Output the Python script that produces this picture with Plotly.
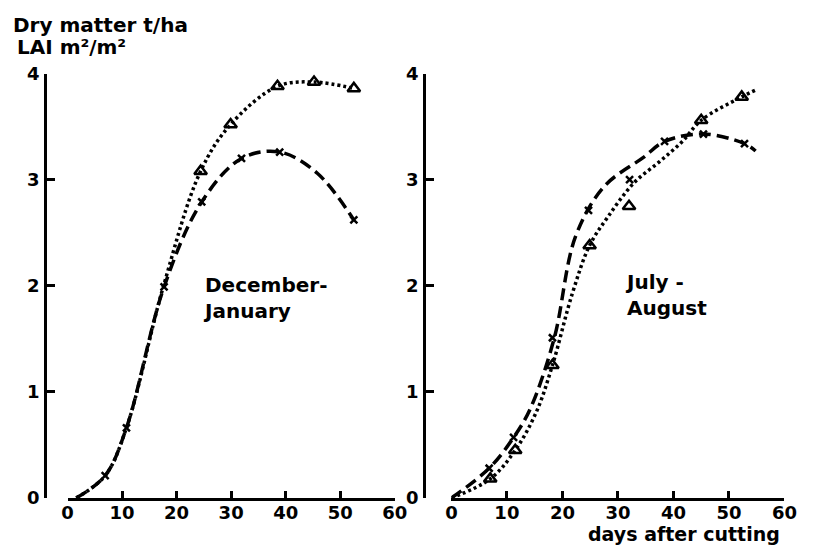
import plotly.graph_objects as go

# ---------------- data ----------------
# December-January panel
dj_cross_days = [6.9, 10.8, 17.7, 24.6, 31.9, 38.9, 52.5]
dj_cross_vals = [0.21, 0.66, 1.99, 2.79, 3.20, 3.26, 2.62]
dj_dash_curve_days = [1.6, 6.9, 10.8, 17.7, 24.6, 31.9, 38.9, 45.8, 52.5]
dj_dash_curve_vals = [0.0, 0.21, 0.66, 1.99, 2.79, 3.20, 3.26, 3.06, 2.62]

dj_tri_days = [24.4, 29.9, 38.5, 45.2, 52.5]
dj_tri_vals = [3.08, 3.52, 3.88, 3.92, 3.86]
dj_dot_curve_days = [1.6, 6.9, 10.8, 17.5, 24.4, 29.9, 38.5, 45.2, 52.5]
dj_dot_curve_vals = [0.0, 0.21, 0.66, 1.98, 3.08, 3.52, 3.88, 3.92, 3.86]

# July-August panel
ja_cross_days = [6.8, 11.2, 18.2, 24.7, 32.1, 38.4, 45.4, 52.8]
ja_cross_vals = [0.28, 0.57, 1.51, 2.71, 3.00, 3.36, 3.43, 3.34]
ja_dash_curve_days = [0.0, 6.8, 11.2, 14.2, 18.5, 22.4, 27.6, 34.6, 38.4, 45.4, 52.8, 54.8]
ja_dash_curve_vals = [0.0, 0.28, 0.57, 0.84, 1.50, 2.47, 2.94, 3.21, 3.36, 3.43, 3.34, 3.27]

ja_tri_days = [7.0, 11.5, 18.2, 24.9, 32.0, 45.0, 52.3]
ja_tri_vals = [0.18, 0.45, 1.25, 2.38, 2.75, 3.56, 3.78]
ja_dot_curve_days = [0.0, 7.0, 11.5, 15.3, 18.2, 21.8, 24.9, 28.2, 32.9, 37.5, 41.6, 45.0, 52.3, 55.0]
ja_dot_curve_vals = [0.0, 0.18, 0.45, 0.81, 1.25, 1.93, 2.38, 2.65, 2.97, 3.17, 3.36, 3.56, 3.78, 3.85]

x_ticks = [0, 10, 20, 30, 40, 50, 60]
y_ticks = [0, 1, 2, 3, 4]

title_lines = ["Dry matter t/ha", "LAI m²/m²"]
panel_labels = ["December-<br>January", "July -<br>August"]
x_title = "days after cutting"

# ---------------- styling ----------------
W, H = 817, 558
TICKFONT = dict(family="DejaVu Sans", size=18, color="black", weight="bold")
TEXTFONT = dict(family="DejaVu Sans", size=20, color="black", weight="bold")
XTFONT = dict(family="DejaVu Sans", size=19, color="black", weight="bold")
BLACK = "black"
DASH = "12px,6px"
DOT = "3px,3px"

fig = go.Figure()

def add_panel(xa, ya, dash_d, dash_v, cross_d, cross_v, dot_d, dot_v, tri_d, tri_v):
    fig.add_trace(go.Scatter(x=dash_d, y=dash_v, mode="lines", xaxis=xa, yaxis=ya,
                             line=dict(color=BLACK, width=3.5, dash=DASH, shape="spline", smoothing=1.0),
                             showlegend=False, hoverinfo="skip"))
    fig.add_trace(go.Scatter(x=dot_d, y=dot_v, mode="lines", xaxis=xa, yaxis=ya,
                             line=dict(color=BLACK, width=3.5, dash=DOT, shape="spline", smoothing=1.0),
                             showlegend=False, hoverinfo="skip"))
    fig.add_trace(go.Scatter(x=cross_d, y=cross_v, mode="markers", xaxis=xa, yaxis=ya,
                             marker=dict(symbol="x-thin", size=7, color=BLACK, line=dict(color=BLACK, width=2.5)),
                             cliponaxis=False, showlegend=False))
    fig.add_trace(go.Scatter(x=tri_d, y=tri_v, mode="markers", xaxis=xa, yaxis=ya,
                             marker=dict(symbol="triangle-up-open", size=11, color=BLACK, line=dict(color=BLACK, width=2.5)),
                             cliponaxis=False, showlegend=False))

add_panel("x", "y", dj_dash_curve_days, dj_dash_curve_vals, dj_cross_days, dj_cross_vals,
          dj_dot_curve_days, dj_dot_curve_vals, dj_tri_days, dj_tri_vals)
add_panel("x2", "y2", ja_dash_curve_days, ja_dash_curve_vals, ja_cross_days, ja_cross_vals,
          ja_dot_curve_days, ja_dot_curve_vals, ja_tri_days, ja_tri_vals)

ydom = [(H - 506) / H, (H - 65) / H]

xcommon = dict(range=[0, 60], tickvals=x_ticks, ticktext=[str(t) for t in x_ticks],
               showline=True, linecolor=BLACK, linewidth=3, ticks="inside", ticklen=7,
               tickwidth=2.5, tickcolor=BLACK, showgrid=False, zeroline=False,
               tickfont=TICKFONT, fixedrange=True, ticklabelstandoff=-4)
ycommon = dict(range=[0, 4], tickvals=y_ticks, ticktext=[str(t) for t in y_ticks],
               showline=True, linecolor=BLACK, linewidth=3, ticks="inside", ticklen=8,
               tickwidth=2.5, tickcolor=BLACK, showgrid=False, zeroline=False,
               tickfont=TICKFONT, fixedrange=True, domain=ydom, anchor="free", ticklabelstandoff=1)

fig.update_layout(
    width=W, height=H,
    margin=dict(l=0, r=0, t=0, b=0),
    paper_bgcolor="white", plot_bgcolor="white",
    xaxis=dict(xcommon, domain=[63 / W, 398 / W], anchor="y"),
    yaxis=dict(ycommon, position=40 / W),
    xaxis2=dict(xcommon, domain=[456 / W, 797 / W], anchor="y2"),
    yaxis2=dict(ycommon, position=428 / W),
    showlegend=False,
)

ann = []
ann.append(dict(text=title_lines[0], x=5 / W, y=1 - 15 / H, xanchor="left", yanchor="middle", font=TEXTFONT))
ann.append(dict(text=title_lines[1], x=9 / W, y=1 - 37 / H, xanchor="left", yanchor="middle", font=TEXTFONT))
ann.append(dict(text=panel_labels[0], x=200 / W, y=1 - 298 / H, xanchor="left", yanchor="middle", align="left", font=TEXTFONT))
ann.append(dict(text=panel_labels[1], x=632 / W, y=1 - 295 / H, xanchor="left", yanchor="middle", align="left", font=TEXTFONT))
ann.append(dict(text=x_title, x=794 / W, y=1 - 557 / H, xanchor="right", yanchor="bottom", font=XTFONT))
for a in ann:
    a.update(xref="paper", yref="paper", showarrow=False)
fig.update_layout(annotations=ann)

fig.write_html("out.html")
